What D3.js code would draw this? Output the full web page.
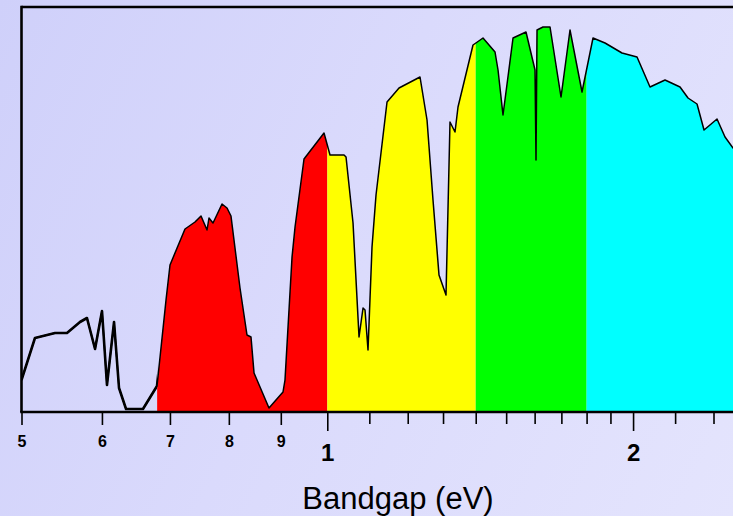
<!DOCTYPE html>
<html>
<head>
<meta charset="utf-8">
<script src="https://cdnjs.cloudflare.com/ajax/libs/d3/7.8.5/d3.min.js"></script>
<style>
html, body { margin: 0; padding: 0; overflow: hidden; }
body { width: 733px; height: 516px; background: linear-gradient(115deg, #cfd0fa 0%, #dadafc 45%, #e4e4fd 100%); }
</style>
</head>
<body>
<div id="chart-area"></div>
<script>
// photon energy (eV) and spectral flux (arbitrary units)
const energy = [0.5, 0.5155, 0.5395, 0.5543, 0.5709, 0.58, 0.5907, 0.6001, 0.6069, 0.6167, 0.6237, 0.6337, 0.6585, 0.6798,
  0.6938, 0.7001, 0.7243, 0.7409, 0.7511, 0.7614, 0.7648, 0.7718, 0.7877, 0.7967, 0.8039, 0.8205, 0.8336, 0.8412, 0.847,
  0.8762, 0.9045, 0.9086, 0.9232, 0.9295, 0.9486, 0.9926, 1.0062, 1.0387, 1.0434, 1.0601, 1.0746, 1.0844, 1.0893, 1.0967,
  1.1067, 1.1168, 1.145, 1.1766, 1.2339, 1.2537, 1.2708, 1.2882, 1.3088, 1.3207, 1.3358, 1.3449, 1.3914, 1.4233, 1.4626,
  1.4726, 1.4893, 1.5235, 1.569, 1.6014, 1.605, 1.6087, 1.6307, 1.6568, 1.6986, 1.7336, 1.7814, 1.8264, 1.8768, 1.9505,
  2.018, 2.0783, 2.1502, 2.2246, 2.2653, 2.312, 2.349, 2.4192, 2.4635, 2.5086, 2.5777];
const flux = [7.75, 18.25, 19.5, 19.5, 22.25, 23.25, 15.5, 25, 6.5, 22.25, 5.75, 0.5, 0.5, 6.25,
  27.75, 36.5, 45.5, 47.25, 48.75, 45.25, 48.25, 47, 51.75, 50.75, 48.75, 30.75, 19, 18.5, 9.5,
  0.75, 4.75, 7.75, 38.5, 46, 63, 69.5, 64, 64, 63.5, 47, 18.5, 25.75, 25.25, 15.25,
  41, 54, 77.25, 80.75, 83.5, 72.75, 52.75, 34, 29, 72.25, 69.75, 76, 91.5, 93.25, 89.75,
  85.25, 74, 93.25, 94.75, 85.25, 62.75, 95.25, 96, 96, 78.5, 95.25, 79.75, 93.25, 92, 89.5,
  88.5, 81, 82.75, 81, 78.25, 76.75, 70.25, 73, 68.5, 65.75, 64];

// coloured bandgap bands
const bandStart = [0.68, 1.0, 1.4, 1.8];
const bandEnd = [1.0, 1.4, 1.8, 2.6];
const bandColors = ["#ff0000", "#ffff00", "#00ff00", "#00ffff"];

// axis ticks
const smallTicks = [0.5, 0.6, 0.7, 0.8, 0.9];
const smallLabels = ["5", "6", "7", "8", "9"];
const bigTicks = [1, 2];
const bigLabels = ["1", "2"];
const minorTicks = [1.1, 1.2, 1.3, 1.4, 1.5, 1.6, 1.7, 1.8, 1.9, 2.2, 2.4];
const xTitle = "Bandgap (eV)";

const WIDTH = 733, HEIGHT = 516;
const plotLeft = 21.5, plotTop = 7, plotBottom = 411;
const FONT = "'Liberation Sans', Arial, sans-serif";

const svg = d3.select("#chart-area").append("svg").attr("width", WIDTH).attr("height", HEIGHT)
  .style("display", "block");

const x = d3.scaleLog().domain([0.5, 2.6]).range([plotLeft, plotLeft + 1015.8 * Math.log10(2.6 / 0.5)]);
const y = d3.scaleLinear().domain([0, 101]).range([plotBottom, plotTop]);

const data = energy.map((e, i) => ({ e: e, v: flux[i] }));

const defs = svg.append("defs");
defs.append("clipPath").attr("id", "plot-clip").append("rect")
  .attr("x", plotLeft).attr("y", plotTop).attr("width", WIDTH - plotLeft).attr("height", plotBottom - plotTop + 2);

bandStart.forEach((s, i) => {
  defs.append("clipPath").attr("id", "band" + i).append("rect")
    .attr("x", x(s)).attr("y", plotTop).attr("width", x(bandEnd[i]) - x(s)).attr("height", plotBottom - plotTop + 2);
});
defs.append("clipPath").attr("id", "dark-part").append("rect")
  .attr("x", plotLeft).attr("y", plotTop).attr("width", x(bandStart[0]) - plotLeft).attr("height", plotBottom - plotTop + 2);

const plot = svg.append("g").attr("clip-path", "url(#plot-clip)");

const area = d3.area().x(d => x(d.e)).y0(y(0)).y1(d => y(d.v));
const line = d3.line().x(d => x(d.e)).y(d => y(d.v));

bandStart.forEach((s, i) => {
  plot.append("path").datum(data)
    .attr("clip-path", "url(#band" + i + ")")
    .attr("d", area)
    .attr("fill", bandColors[i]);
});

plot.append("path").datum(data)
  .attr("d", line).attr("fill", "none").attr("stroke", "#000")
  .attr("stroke-width", 1.5).attr("stroke-linejoin", "round");
plot.append("path").datum(data)
  .attr("clip-path", "url(#dark-part)")
  .attr("d", line).attr("fill", "none").attr("stroke", "#000")
  .attr("stroke-width", 2.6).attr("stroke-linejoin", "round");

// frame
svg.append("line").attr("x1", plotLeft).attr("x2", WIDTH).attr("y1", plotTop).attr("y2", plotTop)
  .attr("stroke", "#000").attr("stroke-width", 2.6);
svg.append("line").attr("x1", plotLeft).attr("x2", plotLeft).attr("y1", plotTop - 1.3).attr("y2", plotBottom + 1)
  .attr("stroke", "#000").attr("stroke-width", 2.6);

function tickAxis(values, labels, size, pad, fontSize) {
  const g = svg.append("g").attr("transform", `translate(0,${plotBottom + 1})`)
    .call(d3.axisBottom(x).tickValues(values).tickSize(size).tickPadding(pad)
      .tickFormat((d, i) => labels ? labels[i] : ""));
  g.select(".domain").remove();
  g.selectAll(".tick line").attr("stroke", "#000").attr("stroke-width", 1.6);
  g.selectAll(".tick text").attr("fill", "#000").attr("font-family", FONT)
    .attr("font-size", fontSize).attr("font-weight", "bold");
  return g;
}

tickAxis(minorTicks, null, 12, 3, 10);
tickAxis(smallTicks, smallLabels, 13, 10.5, 16);
tickAxis(bigTicks, bigLabels, 19, 13, 24);

svg.append("line").attr("x1", plotLeft - 1.3).attr("x2", WIDTH).attr("y1", plotBottom + 1).attr("y2", plotBottom + 1)
  .attr("stroke", "#000").attr("stroke-width", 2.6);

svg.append("text").attr("x", 398).attr("y", 509)
  .attr("text-anchor", "middle").attr("font-family", FONT).attr("font-size", 31)
  .attr("fill", "#000").text(xTitle);
</script>
</body>
</html>
